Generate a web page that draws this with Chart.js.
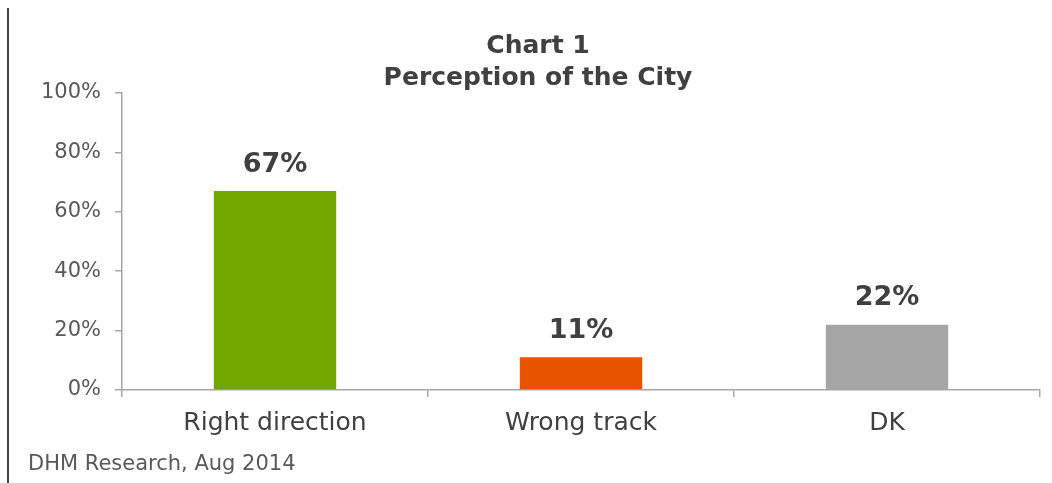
<!DOCTYPE html>
<html>
<head>
<meta charset="utf-8">
<script src="https://cdn.jsdelivr.net/npm/chart.js@4"></script>
<style>
  html, body { margin: 0; padding: 0; background: #fff; }
  #wrap { width: 1052px; height: 483px; position: relative; }
</style>
</head>
<body>
<div id="wrap"><canvas id="c" width="1052" height="483"></canvas></div>
<script>
const categories = ["Right direction", "Wrong track", "DK"];
const values = [67, 11, 22];
const barColors = ["#70A800", "#E85300", "#A6A6A6"];
const yTicks = [0, 20, 40, 60, 80, 100];
const titleLines = ["Chart 1", "Perception of the City"];
const footerText = "DHM Research, Aug 2014";

const FONT = "'DejaVu Sans', Verdana, sans-serif";

const decor = {
  id: 'decor',
  afterDraw(chart) {
    const ctx = chart.ctx;
    ctx.save();
    // left border line
    ctx.strokeStyle = '#404040';
    ctx.lineWidth = 2;
    ctx.beginPath();
    ctx.moveTo(8, 8);
    ctx.lineTo(8, 483);
    ctx.stroke();
    // title
    ctx.fillStyle = '#404040';
    ctx.font = 'bold 25px ' + FONT;
    ctx.textAlign = 'center';
    ctx.textBaseline = 'middle';
    const cx = chart.width / 2 + 12;
    ctx.fillText(titleLines[0], cx, 46);
    ctx.fillText(titleLines[1], cx, 78);
    // footer
    ctx.fillStyle = '#595959';
    ctx.font = '21px ' + FONT;
    ctx.textAlign = 'left';
    ctx.fillText(footerText, 28, 465);
    // value labels
    const meta = chart.getDatasetMeta(0);
    ctx.fillStyle = '#404040';
    ctx.font = 'bold 27px ' + FONT;
    ctx.textAlign = 'center';
    ctx.textBaseline = 'bottom';
    meta.data.forEach((bar, i) => {
      ctx.fillText(values[i] + '%', bar.x, bar.y - 13);
    });
    ctx.restore();
  }
};

new Chart(document.getElementById('c'), {
  type: 'bar',
  data: {
    labels: categories,
    datasets: [{
      data: values,
      backgroundColor: barColors,
      borderWidth: 0,
      categoryPercentage: 1.0,
      barPercentage: 0.4
    }]
  },
  options: {
    responsive: false,
    animation: false,
    layout: { padding: { top: 93, right: 12, left: 0, bottom: 0 } },
    plugins: {
      legend: { display: false },
      title: { display: false },
      tooltip: { enabled: false }
    },
    scales: {
      y: {
        min: 0,
        max: 100,
        afterBuildTicks(scale) { scale.ticks = yTicks.map(v => ({ value: v })); },
        afterFit(scale) { scale.width = 122; },
        ticks: {
          callback: v => v + '%',
          color: '#595959',
          font: { family: FONT, size: 21 },
          padding: 14
        },
        grid: {
          drawOnChartArea: false,
          drawTicks: true,
          tickLength: 7,
          color: '#A6A6A6',
          lineWidth: 1.5
        },
        border: { display: true, color: '#A6A6A6', width: 1.5 }
      },
      x: {
        offset: true,
        afterFit(scale) { scale.height = 93; },
        ticks: {
          color: '#404040',
          font: { family: FONT, size: 25 },
          padding: 11,
          maxRotation: 0
        },
        grid: {
          offset: true,
          drawOnChartArea: false,
          drawTicks: true,
          tickLength: 7,
          color: '#A6A6A6',
          lineWidth: 1.5
        },
        border: { display: true, color: '#A6A6A6', width: 1.5 }
      }
    }
  },
  plugins: [decor]
});
</script>
</body>
</html>
